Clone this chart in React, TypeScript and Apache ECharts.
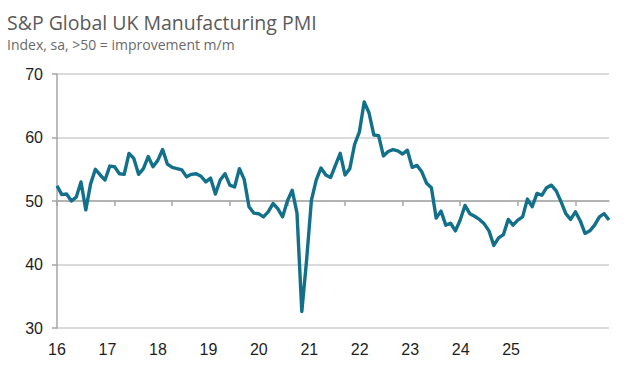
import React, { useEffect, useRef } from "react";
import * as echarts from "echarts";

const years = ["2016", "2017", "2018", "2019", "2020", "2021", "2022", "2023", "2024", "2025"];
const monthsPerYear = ["01", "02", "03", "04", "05", "06", "07", "08", "09", "10", "11", "12"];

const pmi2016 = [52.4, 51.0, 51.1, 50.0, 50.6, 53.0, 48.6, 52.7, 55.0, 54.1, 53.3, 55.5];
const pmi2017 = [55.4, 54.3, 54.2, 57.5, 56.7, 54.2, 55.1, 57.0, 55.4, 56.4, 58.1, 55.8];
const pmi2018 = [55.3, 55.1, 54.9, 53.8, 54.2, 54.3, 53.9, 53.0, 53.6, 51.1, 53.3, 54.3];
const pmi2019 = [52.5, 52.2, 55.1, 53.4, 49.1, 48.1, 48.0, 47.5, 48.3, 49.6, 48.8, 47.5];
const pmi2020 = [50.0, 51.7, 48.1, 32.6, 40.7, 50.1, 53.3, 55.2, 54.1, 53.7, 55.6, 57.5];
const pmi2021 = [54.1, 55.1, 58.9, 60.9, 65.6, 63.9, 60.4, 60.3, 57.1, 57.8, 58.1, 57.9];
const pmi2022 = [57.4, 58.0, 55.3, 55.6, 54.6, 52.8, 52.1, 47.3, 48.4, 46.2, 46.5, 45.3];
const pmi2023 = [47.0, 49.3, 48.0, 47.6, 47.1, 46.4, 45.3, 43.0, 44.2, 44.7, 47.1, 46.2];
const pmi2024 = [47.0, 47.5, 50.3, 49.1, 51.2, 50.9, 52.1, 52.5, 51.6, 49.9, 48.0, 47.1];
const pmi2025 = [48.3, 46.9, 44.9, 45.3, 46.2, 47.5, 48.0, 47.0];

const pmiValues = [
  ...pmi2016, ...pmi2017, ...pmi2018, ...pmi2019, ...pmi2020,
  ...pmi2021, ...pmi2022, ...pmi2023, ...pmi2024, ...pmi2025,
];

const monthCategories: string[] = [];
years.forEach((y) => monthsPerYear.forEach((m) => monthCategories.push(`${y}-${m}`)));
const categories = monthCategories.slice(0, pmiValues.length);

const xTickLabels = ["16", "17", "18", "19", "20", "21", "22", "23", "24", "25"];
const yTicks = [30, 40, 50, 60, 70];

const titleText = "S&P Global UK Manufacturing PMI";
const subtitleText = "Index, sa, >50 = improvement m/m";

export default function App() {
  const ref = useRef<HTMLDivElement>(null);

  useEffect(() => {
    if (!ref.current) return;
    const chart = echarts.init(ref.current, null, { renderer: "svg" });
    const labelFont = "'Liberation Sans', Arial, sans-serif";
    chart.setOption({
      animation: false,
      backgroundColor: "#ffffff",
      title: {
        text: titleText,
        subtext: subtitleText,
        left: 2,
        top: 7,
        itemGap: 5,
        textStyle: {
          fontFamily: "'Open Sans', sans-serif",
          fontSize: 19.5,
          fontWeight: "normal",
          color: "#5a5a5a",
        },
        subtextStyle: {
          fontFamily: "'Open Sans', sans-serif",
          fontSize: 14,
          color: "#6a6a6a",
        },
      },
      grid: { left: 57, right: 25, top: 74, bottom: 48, containLabel: false },
      xAxis: [
        {
          type: "category",
          data: categories,
          boundaryGap: false,
          position: "bottom",
          offset: -127,
          axisLine: { show: true, lineStyle: { color: "#a6a6a6", width: 1.5 } },
          axisTick: { show: true, interval: 11, length: 5, lineStyle: { color: "#a6a6a6", width: 1.5 } },
          axisLabel: { show: false },
          splitLine: { show: false },
        },
        {
          type: "value",
          position: "bottom",
          min: 16,
          max: 26.94,
          interval: 1,
          axisLine: { show: false },
          axisTick: { show: false },
          splitLine: { show: false },
          axisLabel: {
            show: true,
            margin: 13,
            fontFamily: labelFont,
            fontSize: 16,
            color: "#1e1e1e",
            showMaxLabel: false,
            formatter: (v: number) => xTickLabels[Math.round(v) - 16] ?? "",
          },
        },
      ],
      yAxis: {
        type: "value",
        min: yTicks[0],
        max: yTicks[yTicks.length - 1],
        interval: 10,
        axisLine: { show: true, lineStyle: { color: "#a6a6a6", width: 1.5 } },
        axisTick: { show: true, length: 5, lineStyle: { color: "#a6a6a6", width: 1.5 } },
        axisLabel: {
          margin: 14,
          fontFamily: labelFont,
          fontSize: 16,
          color: "#1e1e1e",
        },
        splitLine: { show: true, lineStyle: { color: "#cfcfcf", width: 1.5 } },
      },
      series: [
        {
          type: "line",
          xAxisIndex: 0,
          data: pmiValues,
          showSymbol: false,
          symbol: "none",
          lineStyle: { color: "#13708a", width: 3.4, join: "round" },
          z: 5,
        },
      ],
    });
    return () => chart.dispose();
  }, []);

  return <div ref={ref} style={{ width: 634, height: 376, position: "absolute", left: 0, top: 0 }} />;
}
